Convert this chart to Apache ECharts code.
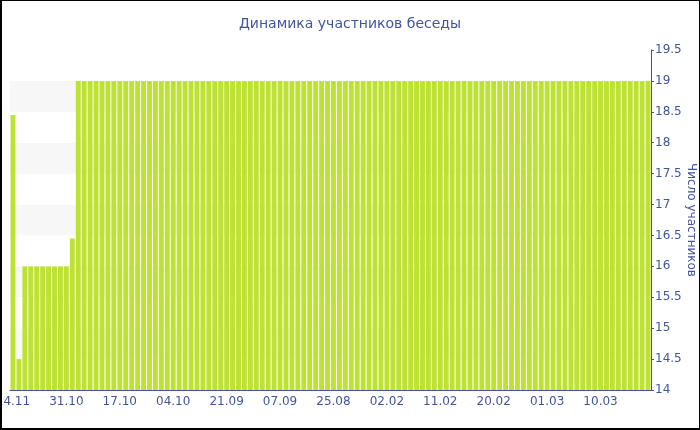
<!DOCTYPE html>
<html>
<head>
<meta charset="utf-8">
<script src="https://cdn.jsdelivr.net/npm/echarts@6/dist/echarts.min.js"></script>
<style>
html,body{margin:0;padding:0;background:#fff;}
#chart{position:absolute;left:0;top:0;width:700px;height:430px;}
#frame{position:absolute;left:0;top:0;width:700px;height:430px;box-sizing:border-box;border-style:solid;border-color:#000;border-width:1px 1px 2px 2px;pointer-events:none;}
</style>
</head>
<body>
<div id="chart"></div>
<div id="frame"></div>
<script>
const titleText = 'Динамика участников беседы';
const axisName = 'Число участников';
const categories = [
'14.11','12.11','11.11','09.11','08.11','06.11','05.11','03.11','02.11',
'31.10','29.10','28.10','26.10','25.10','23.10','22.10','20.10','19.10',
'17.10','16.10','14.10','13.10','11.10','10.10','08.10','07.10','05.10',
'04.10','03.10','01.10','30.09','28.09','27.09','25.09','24.09','22.09',
'21.09','19.09','18.09','16.09','15.09','13.09','12.09','10.09','09.09',
'07.09','06.09','04.09','03.09','01.09','31.08','29.08','28.08','26.08',
'25.08','24.08','22.08','21.08','19.08','18.08','16.08','15.08','13.08',
'02.02','03.02','04.02','05.02','06.02','07.02','08.02','09.02','10.02',
'11.02','12.02','13.02','14.02','15.02','16.02','17.02','18.02','19.02',
'20.02','21.02','22.02','23.02','24.02','25.02','26.02','27.02','28.02',
'01.03','02.03','03.03','04.03','05.03','06.03','07.03','08.03','09.03',
'10.03','11.03','12.03','13.03','14.03','15.03','16.03','17.03','18.03'
];
const earlyValues = [18.45, 14.5, 16, 16, 16, 16, 16, 16, 16, 16, 16.45];
const laterValues = [
19,19,19,19,19,19,19,19,19,19,19,19,19,19,19,19,19,19,19,19,
19,19,19,19,19,19,19,19,19,19,19,19,19,19,19,19,19,19,19,19,
19,19,19,19,19,19,19,19,19,19,19,19,19,19,19,19,19,19,19,19,
19,19,19,19,19,19,19,19,19,19,19,19,19,19,19,19,19,19,19,19,
19,19,19,19,19,19,19,19,19,19,19,19,19,19,19,19,19
];
const values = earlyValues.concat(laterValues);

const blue = '#41559f';
const font = 'DejaVu Sans';
const chart = echarts.init(document.getElementById('chart'), null, {renderer: 'canvas'});
chart.setOption({
  animation: false,
  backgroundColor: '#fff',
  title: {
    text: titleText, left: 'center', top: 12,
    textStyle: {color: blue, fontSize: 14, fontWeight: 'normal', fontFamily: font}
  },
  grid: {left: 10, right: 49, top: 50, bottom: 40, containLabel: false, outerBoundsMode: 'none'},
  xAxis: {
    type: 'category',
    data: categories,
    axisLine: {lineStyle: {color: blue, width: 1}},
    axisTick: {alignWithLabel: true, interval: 8, length: 4, lineStyle: {color: blue}},
    axisLabel: {interval: 8, color: blue, fontSize: 12, fontFamily: font, margin: 6},
    splitLine: {show: false}
  },
  yAxis: {
    type: 'value',
    position: 'right',
    min: 14, max: 19.5, interval: 0.5,
    name: axisName,
    nameLocation: 'middle',
    nameRotate: -90,
    nameGap: 34,
    nameMoveOverlap: false,
    nameTextStyle: {color: blue, fontSize: 12, fontFamily: font},
    axisLine: {show: true, lineStyle: {color: blue, width: 1}},
    axisTick: {show: true, length: 3, inside: false, lineStyle: {color: blue}},
    axisLabel: {color: blue, fontSize: 12, fontFamily: font, margin: 4},
    splitLine: {show: false},
    splitArea: {show: true, areaStyle: {color: ['#ffffff', '#f7f7f7']}}
  },
  series: [{
    type: 'bar',
    data: values,
    barCategoryGap: '18%',
    itemStyle: {color: '#bde232'}
  }]
});
</script>
</body>
</html>
